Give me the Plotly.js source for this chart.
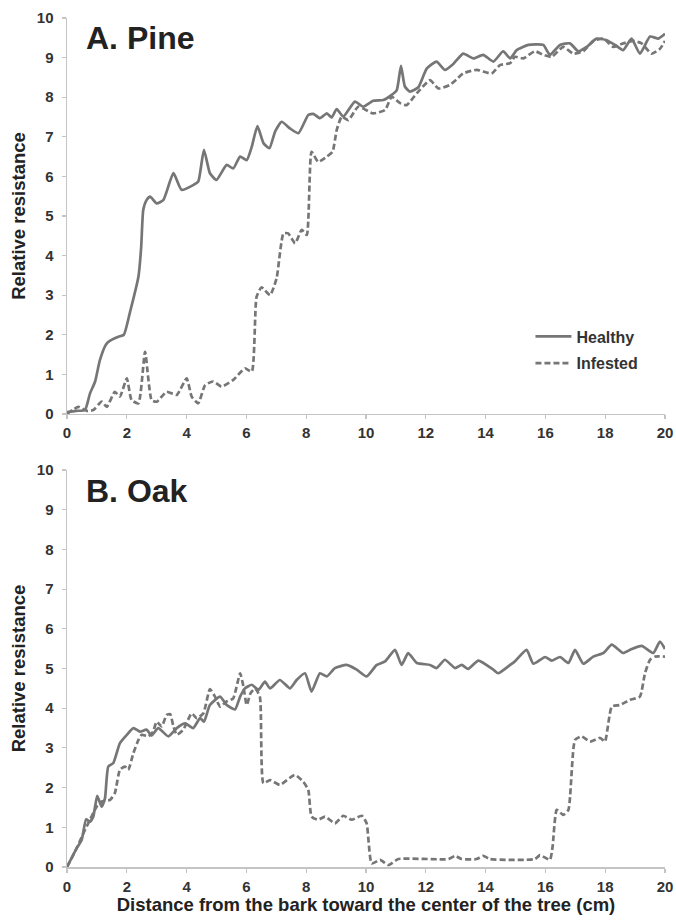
<!DOCTYPE html>
<html>
<head>
<meta charset="utf-8">
<script src="https://cdn.plot.ly/plotly-3.0.1.min.js"></script>
<style>html,body{margin:0;padding:0;background:#fff;}#chart{width:676px;height:920px;}</style>
</head>
<body>
<div id="chart"></div>
<script>
// ---- Data ----
const pineHealthyX = [0,0.3,0.6,0.77,0.94,1.1,1.3,1.44,1.72,1.9,2.1,2.39,2.48,2.55,2.66,2.78,3.0,3.22,3.56,3.83,4.22,4.39,4.58,4.78,5.0,5.34,5.56,5.79,6.01,6.18,6.37,6.57,6.77,6.96,7.18,7.46,7.74,8.07,8.24,8.46,8.69,8.85,9.02,9.24,9.63,9.91,10.24,10.58,10.86,11.03,11.17,11.3,11.47,11.75,12.03,12.36,12.64,12.92,13.25,13.59,13.92,14.26,14.59,14.82,15.04,15.43,15.93,16.15,16.49,16.82,17.1,17.38,17.71,18.05,18.33,18.6,18.88,19.16,19.5,19.78,20];
const pineHealthyY = [0.05,0.08,0.1,0.52,0.82,1.36,1.75,1.85,1.95,2.0,2.55,3.47,4.2,5.15,5.4,5.49,5.32,5.4,6.08,5.66,5.78,5.87,6.67,6.08,5.91,6.29,6.2,6.5,6.41,6.75,7.27,6.84,6.71,7.13,7.38,7.21,7.09,7.55,7.58,7.47,7.59,7.49,7.7,7.51,7.89,7.76,7.91,7.93,8.06,8.18,8.79,8.27,8.14,8.25,8.72,8.9,8.69,8.84,9.1,8.98,9.07,8.9,9.16,8.98,9.19,9.32,9.32,9.07,9.32,9.36,9.16,9.27,9.48,9.44,9.32,9.19,9.48,9.1,9.53,9.48,9.6];

const pineInfestedX = [0,0.38,0.66,0.88,1.16,1.33,1.6,1.77,2.0,2.16,2.39,2.61,2.83,3.0,3.33,3.67,4.0,4.17,4.39,4.62,4.89,5.17,5.56,5.95,6.18,6.34,6.51,6.79,7.01,7.24,7.4,7.63,7.85,8.02,8.18,8.4,8.69,8.88,9.02,9.19,9.41,9.74,10.24,10.64,10.86,11.14,11.36,11.7,12.14,12.42,12.81,13.03,13.25,13.7,14.2,14.48,14.82,14.98,15.26,15.65,15.93,16.21,16.6,16.93,17.27,17.6,17.94,18.27,18.6,18.94,19.22,19.55,19.83,20];
const pineInfestedY = [0,0.18,0.08,0.1,0.31,0.18,0.56,0.44,0.9,0.35,0.27,1.57,0.35,0.31,0.56,0.48,0.9,0.44,0.27,0.73,0.82,0.69,0.86,1.15,1.07,2.96,3.2,3.0,3.43,4.56,4.56,4.31,4.65,4.52,6.62,6.37,6.5,6.62,7.17,7.51,7.42,7.76,7.59,7.68,8.01,7.85,7.8,8.1,8.43,8.22,8.31,8.45,8.6,8.69,8.6,8.81,8.86,9.02,8.98,9.16,9.07,9.02,9.27,9.1,9.16,9.42,9.48,9.27,9.36,9.42,9.36,9.1,9.22,9.42];

const oakHealthyX = [0,0.32,0.49,0.64,0.77,0.88,1.01,1.16,1.27,1.38,1.55,1.77,2.0,2.22,2.44,2.66,2.83,3.05,3.39,3.67,3.95,4.22,4.45,4.58,4.78,5.12,5.34,5.62,5.79,5.95,6.18,6.4,6.62,6.79,7.12,7.46,7.68,7.96,8.18,8.46,8.69,8.96,9.35,9.69,10.02,10.36,10.64,10.97,11.19,11.41,11.7,12.14,12.36,12.64,12.98,13.2,13.42,13.76,14.26,14.42,14.82,14.98,15.37,15.6,15.99,16.21,16.49,16.77,16.99,17.27,17.6,17.94,18.22,18.6,18.88,19.22,19.61,19.83,20];
const oakHealthyY = [0,0.47,0.68,1.2,1.14,1.27,1.79,1.52,1.73,2.53,2.62,3.12,3.33,3.5,3.41,3.46,3.31,3.5,3.29,3.5,3.62,3.5,3.75,3.66,4.08,4.29,4.08,3.97,4.29,4.5,4.59,4.46,4.67,4.5,4.71,4.5,4.71,4.88,4.42,4.88,4.8,5.01,5.09,4.97,4.8,5.09,5.18,5.47,5.09,5.39,5.14,5.09,5.01,5.22,5.01,5.09,4.99,5.2,4.97,4.88,5.09,5.18,5.47,5.12,5.29,5.2,5.29,5.14,5.47,5.12,5.3,5.39,5.6,5.39,5.49,5.57,5.39,5.68,5.49];

const oakInfestedX = [0,0.27,0.55,0.71,0.99,1.16,1.44,1.6,1.77,1.94,2.05,2.22,2.39,2.5,2.72,2.88,3.0,3.17,3.33,3.45,3.56,3.67,3.89,4.17,4.34,4.56,4.78,4.95,5.12,5.34,5.56,5.79,5.9,6.01,6.14,6.29,6.45,6.57,6.79,7.12,7.62,7.9,8.07,8.18,8.4,8.63,8.96,9.24,9.52,9.86,10.02,10.19,10.47,10.75,11.08,12.76,12.98,13.2,13.7,13.92,14.15,15.65,15.82,16.15,16.24,16.38,16.6,16.77,16.99,17.21,17.49,17.83,17.99,18.22,18.49,18.83,19.16,19.33,19.5,19.67,20];
const oakInfestedY = [0,0.39,0.85,1.1,1.52,1.65,1.69,1.86,2.45,2.53,2.45,2.87,3.2,3.33,3.29,3.41,3.66,3.54,3.83,3.85,3.54,3.33,3.46,3.87,3.75,3.87,4.48,4.29,4.04,4.17,4.25,4.88,4.55,4.08,4.38,4.5,4.29,2.11,2.19,2.07,2.32,2.15,1.94,1.27,1.19,1.27,1.1,1.29,1.19,1.29,1.1,0.09,0.18,0.05,0.2,0.2,0.28,0.2,0.2,0.28,0.2,0.2,0.3,0.18,0.51,1.44,1.31,1.44,3.2,3.29,3.16,3.25,3.16,4.04,4.08,4.21,4.29,4.88,5.22,5.3,5.3];

const xTicks = [0,2,4,6,8,10,12,14,16,18,20];
const yTicks = [0,1,2,3,4,5,6,7,8,9,10];
const seriesNames = ['Healthy','Infested'];
const panelTitles = ['A. Pine','B. Oak'];

// ---- Styling ----
const lineColor = '#767676';
const fontFam = '"Liberation Sans", Arial, sans-serif';
const tickFont = {family: fontFam, size: 15, color: '#333333', weight: 'bold'};
const dashStyle = '6px,3px';

function mk(x, y, name, dash, xa, ya, show) {
  return {
    x: x, y: y, name: name, type: 'scatter', mode: 'lines',
    xaxis: xa, yaxis: ya, showlegend: show, legendgroup: name,
    line: {color: lineColor, width: 2.7, dash: dash, shape: 'spline', smoothing: 0.5},
    hoverinfo: 'skip'
  };
}

const traces = [
  mk(pineHealthyX, pineHealthyY, seriesNames[0], 'solid', 'x', 'y', true),
  mk(pineInfestedX, pineInfestedY, seriesNames[1], dashStyle, 'x', 'y', true),
  mk(oakHealthyX, oakHealthyY, seriesNames[0], 'solid', 'x2', 'y2', false),
  mk(oakInfestedX, oakInfestedY, seriesNames[1], dashStyle, 'x2', 'y2', false)
];

function xAxis(anchor, withTitle) {
  const a = {
    anchor: anchor, range: [0, 20], tickvals: xTicks, ticktext: xTicks.map(String),
    showgrid: false, zeroline: false, showline: true, linecolor: '#c4c4c4', linewidth: 1.5,
    ticks: 'outside', ticklen: 4, tickcolor: '#c4c4c4', tickwidth: 1.2,
    tickfont: tickFont, fixedrange: true, ticklabelstandoff: 1
  };
  if (withTitle) {
    a.title = {text: 'Distance from the bark toward the center of the tree (cm)',
               font: {family: fontFam, size: 18.5, color: '#222222', weight: 'bold'}, standoff: 4};
  }
  return a;
}
function yAxis(anchor, domain) {
  return {
    anchor: anchor, domain: domain, range: [0, 10], tickvals: yTicks, ticktext: yTicks.map(String),
    showgrid: false, zeroline: false, showline: true, linecolor: '#c4c4c4', linewidth: 1.5,
    ticks: 'outside', ticklen: 4, tickcolor: '#c4c4c4', tickwidth: 1.2,
    tickfont: tickFont, fixedrange: true, ticklabelstandoff: 5,
    title: {text: 'Relative resistance', font: {family: fontFam, size: 18.5, color: '#222222', weight: 'bold'}, standoff: 6}
  };
}

const layout = {
  width: 676, height: 920,
  margin: {l: 67, r: 11, t: 18, b: 53},
  paper_bgcolor: '#ffffff', plot_bgcolor: '#ffffff',
  font: {family: fontFam, color: '#222222'},
  xaxis: xAxis('y', false),
  yaxis: yAxis('x', [0.5336, 1]),
  xaxis2: xAxis('y2', true),
  yaxis2: yAxis('x2', [0, 0.4676]),
  showlegend: true,
  legend: {
    x: 0.775, y: 0.645, xanchor: 'left', yanchor: 'top',
    bgcolor: 'rgba(0,0,0,0)', borderwidth: 0,
    font: {family: fontFam, size: 16, color: '#333333', weight: 'bold'},
    traceorder: 'grouped', tracegroupgap: 3, itemwidth: 36
  },
  annotations: [
    {text: panelTitles[0], xref: 'paper', yref: 'paper', x: 0.028, y: 1.0, xanchor: 'left', yanchor: 'top',
     showarrow: false, font: {family: fontFam, size: 32, color: '#222222', weight: 'bold'}},
    {text: panelTitles[1], xref: 'paper', yref: 'paper', x: 0.028, y: 0.466, xanchor: 'left', yanchor: 'top',
     showarrow: false, font: {family: fontFam, size: 32, color: '#222222', weight: 'bold'}}
  ]
};

Plotly.newPlot('chart', traces, layout, {displayModeBar: false, staticPlot: true});
</script>
</body>
</html>
